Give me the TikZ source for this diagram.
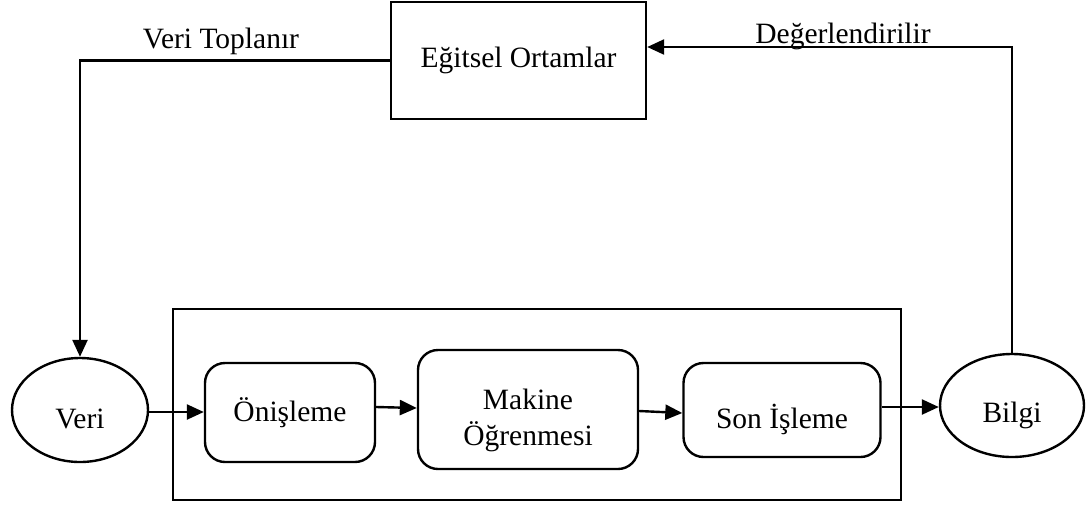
\documentclass[tikz,border=0pt]{standalone}
\usepackage{fontspec}
\setmainfont{Liberation Serif}
\usetikzlibrary{arrows.meta,shapes.geometric,calc}
\begin{document}
\begin{tikzpicture}[x=1pt,y=-1pt,
  every node/.style={font=\fontsize{29.5}{36}\selectfont, inner sep=0pt},
  arr/.style={line width=2.4pt,-{Triangle[length=17pt,width=15pt]}},
  rbox/.style={draw,line width=2.4pt,rounded corners=20pt,align=center},
  oval/.style={draw,line width=2.4pt,ellipse},
  sqbox/.style={draw,line width=2.4pt,align=center},
  txt/.style={align=center,inner sep=0pt}]
\useasboundingbox (0,0) rectangle (1086,504);
% outer frame
\node[draw,line width=1.4pt,minimum width=728pt,minimum height=191pt] (frame) at (537,404.5) {};
% nodes
\node[sqbox,minimum width=255pt,minimum height=117pt] (eo) at (518.5,60.5) {Eğitsel Ortamlar};
\node[oval,minimum width=136pt,minimum height=104pt,
  label={[txt,yshift=-9pt]center:Veri}] (veri) at (80,410) {};
\node[rbox,minimum width=170pt,minimum height=99pt] (on) at (290,412.5) {Önişleme};
\node[rbox,minimum width=220pt,minimum height=119pt,
  label={[txt,yshift=-11pt]center:{Makine\\Öğrenmesi}}] (mak) at (528,409.5) {};
\node[rbox,minimum width=197pt,minimum height=94pt,
  label={[txt,yshift=-9pt]center:Son İşleme}] (son) at (782,410) {};
\node[oval,minimum width=144pt,minimum height=103pt,
  label={[txt,yshift=-10pt]center:Bilgi}] (bilgi) at (1012,405.5) {};
% labels
\node[anchor=base] (lbl1) at (221,48) {Veri Toplanır};
\node[anchor=base] (lbl2) at (843,43) {Değerlendirilir};
% connectors
\draw[arr] (eo.west) -| (veri.north);
\draw[arr] (bilgi.north) |- ([yshift=13.5pt]eo.east);
\draw[arr] ([yshift=-2pt]veri.east) -- ([yshift=-2pt]veri.east -| on.west);
\draw[arr] ([yshift=5.5pt]on.east) -- ([yshift=1.5pt]mak.west);
\draw[arr] ([yshift=-1.5pt]mak.east) -- ([yshift=-3pt]son.west);
\draw[arr] ([yshift=3pt]son.east) -- ([yshift=-1.5pt]bilgi.west);
\end{tikzpicture}
\end{document}
